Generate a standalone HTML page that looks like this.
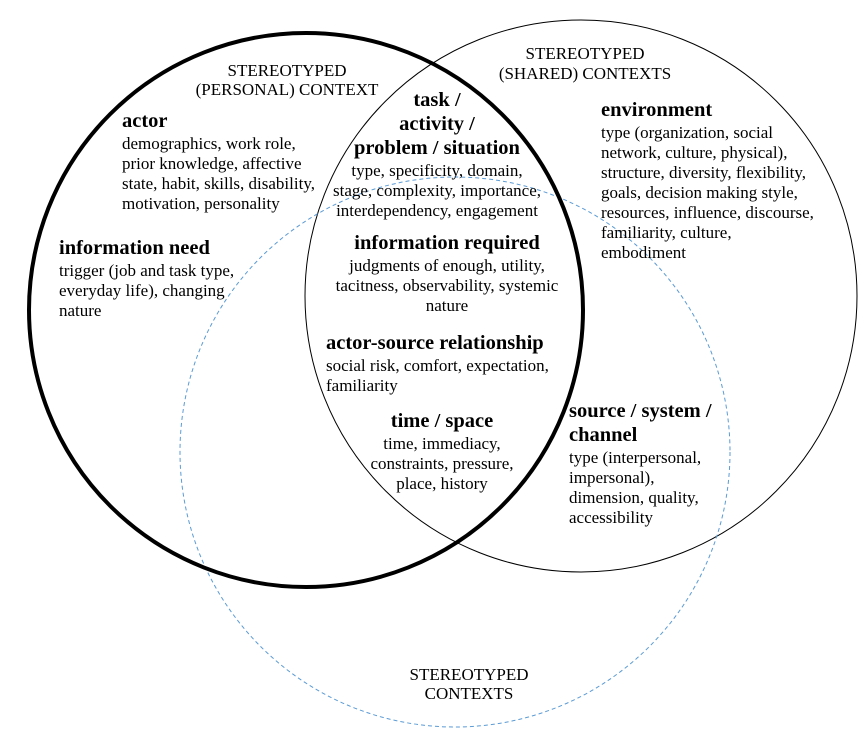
<!DOCTYPE html>
<html><head><style>
html,body{margin:0;padding:0;background:#fff;}
svg{display:block;font-family:"Liberation Serif",serif;}
.b{font-weight:bold;font-size:20.5px;}
.t{font-size:17px;}
.c{font-size:17px;}
</style></head><body>
<svg width="864" height="735" viewBox="0 0 864 735" xmlns="http://www.w3.org/2000/svg">
<circle cx="581" cy="296" r="276" fill="none" stroke="#000" stroke-width="1"/>
<circle cx="455" cy="452" r="275" fill="none" stroke="#5b9bd5" stroke-width="1" stroke-dasharray="4,3"/>
<circle cx="306" cy="310" r="277" fill="none" stroke="#000" stroke-width="4"/>
<g class="c" text-anchor="middle">
<text x="287" y="76">STEREOTYPED</text>
<text x="287" y="95">(PERSONAL) CONTEXT</text>
<text x="585" y="59">STEREOTYPED</text>
<text x="585" y="79">(SHARED) CONTEXTS</text>
<text x="469" y="680">STEREOTYPED</text>
<text x="469" y="699">CONTEXTS</text>
</g>
<g text-anchor="middle">
<text class="b" x="437" y="106">task /</text>
<text class="b" x="437" y="130">activity /</text>
<text class="b" x="437" y="154">problem / situation</text>
<text class="t" x="437" y="176">type, specificity, domain,</text>
<text class="t" x="437" y="196">stage, complexity, importance,</text>
<text class="t" x="437" y="216">interdependency, engagement</text>
<text class="b" x="447" y="249">information required</text>
<text class="t" x="447" y="271">judgments of enough, utility,</text>
<text class="t" x="447" y="291">tacitness, observability, systemic</text>
<text class="t" x="447" y="311">nature</text>
<text class="b" x="442" y="427">time / space</text>
<text class="t" x="442" y="449">time, immediacy,</text>
<text class="t" x="442" y="469">constraints, pressure,</text>
<text class="t" x="442" y="489">place, history</text>
</g>
<g>
<text class="b" x="122" y="127">actor</text>
<text class="t" x="122" y="149">demographics, work role,</text>
<text class="t" x="122" y="169">prior knowledge, affective</text>
<text class="t" x="122" y="189">state, habit, skills, disability,</text>
<text class="t" x="122" y="209">motivation, personality</text>
<text class="b" x="59" y="254">information need</text>
<text class="t" x="59" y="276">trigger (job and task type,</text>
<text class="t" x="59" y="296">everyday life), changing</text>
<text class="t" x="59" y="316">nature</text>
<text class="b" x="326" y="349">actor-source relationship</text>
<text class="t" x="326" y="371">social risk, comfort, expectation,</text>
<text class="t" x="326" y="391">familiarity</text>
<text class="b" x="601" y="116">environment</text>
<text class="t" x="601" y="138">type (organization, social</text>
<text class="t" x="601" y="158">network, culture, physical),</text>
<text class="t" x="601" y="178">structure, diversity, flexibility,</text>
<text class="t" x="601" y="198">goals, decision making style,</text>
<text class="t" x="601" y="218">resources, influence, discourse,</text>
<text class="t" x="601" y="238">familiarity, culture,</text>
<text class="t" x="601" y="258">embodiment</text>
<text class="b" x="569" y="417">source / system /</text>
<text class="b" x="569" y="441">channel</text>
<text class="t" x="569" y="463">type (interpersonal,</text>
<text class="t" x="569" y="483">impersonal),</text>
<text class="t" x="569" y="503">dimension, quality,</text>
<text class="t" x="569" y="523">accessibility</text>
</g>
</svg>
</body></html>
